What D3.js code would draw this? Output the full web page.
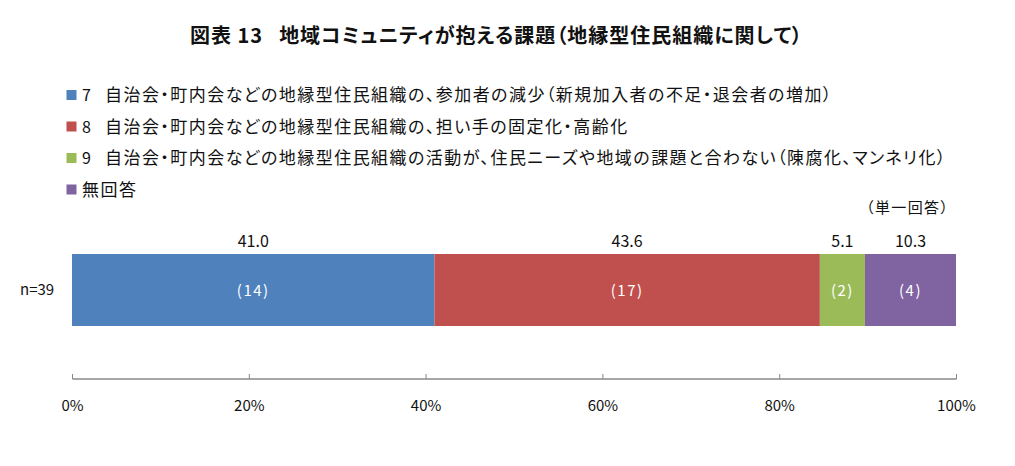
<!DOCTYPE html>
<html><head><meta charset="utf-8">
<script src="https://cdn.jsdelivr.net/npm/d3@7"></script>
<style>body{margin:0;background:#fff;} text{font-family:"Noto Sans CJK JP","Noto Sans",sans-serif;} .p{font-feature-settings:"palt" 1;}</style>
</head><body><svg id="c" width="1015" height="466"></svg>
<script>
const categories = ["7","8","9",""];
const legendLabels = [
  "自治会・町内会などの地縁型住民組織の、参加者の減少（新規加入者の不足・退会者の増加）",
  "自治会・町内会などの地縁型住民組織の、担い手の固定化・高齢化",
  "自治会・町内会などの地縁型住民組織の活動が、住民ニーズや地域の課題と合わない（陳腐化、マンネリ化）",
  "無回答"
];
const percents = [41.0, 43.6, 5.1, 10.3];
const counts = [14, 17, 2, 4];
const colors = ["#4f81bd", "#c0504d", "#9bbb59", "#8064a2"];
const rowLabel = "n=39";
const tickValues = [0, 20, 40, 60, 80, 100];

const svg = d3.select("#c");

svg.append("text").attr("class", "p").attr("x", 190).attr("y", 43)
  .attr("font-size", 20).attr("font-weight", "bold").attr("fill", "#111")
  .attr("textLength", 612).attr("lengthAdjust", "spacing")
  .text("図表 13\u2002\u2009地域コミュニティが抱える課題（地縁型住民組織に関して）");

const legendY = [95, 126.5, 158, 189.5];
const legTexts = [];
legendLabels.forEach((l, i) => {
  const g = svg.append("g");
  g.append("rect").attr("x", 66.5).attr("y", legendY[i] - 5).attr("width", 10).attr("height", 10).attr("fill", colors[i]);
  if (categories[i]) {
    g.append("text").attr("x", 82).attr("y", legendY[i] + 6).attr("font-size", 16).attr("fill", "#111").text(categories[i]);
  }
  const t = g.append("text").attr("class", "p").attr("x", categories[i] ? 105 : 82).attr("y", legendY[i] + 6)
    .attr("font-size", 17).attr("fill", "#111").text(l);
  legTexts.push(t);
});
// uniform tracking so that the first legend line spans the same width as in the original
{
  const t0 = legTexts[0].node();
  const n = t0.textContent.length;
  const ls = (728 - t0.getComputedTextLength()) / n;
  legTexts.forEach(t => t.attr("letter-spacing", ls.toFixed(2)));
}
svg.append("text").attr("class", "p").attr("x", 866).attr("y", 213).attr("font-size", 15).attr("fill", "#111")
  .attr("textLength", 82).attr("lengthAdjust", "spacing").text("（単一回答）");

const x = d3.scaleLinear().domain([0, 100]).range([72, 956]);
const y = d3.scaleBand().domain([rowLabel]).range([254, 326]).padding(0);

let cum = 0;
const segs = percents.map((p, i) => { const s = {p, c: counts[i], color: colors[i], x0: cum}; cum += p; s.x1 = Math.min(cum, 100); return s; });

svg.selectAll("rect.bar").data(segs).join("rect").attr("class", "bar")
  .attr("x", d => x(d.x0)).attr("width", d => x(d.x1) - x(d.x0))
  .attr("y", y(rowLabel)).attr("height", y.bandwidth()).attr("fill", d => d.color);

svg.selectAll("text.val").data(segs).join("text").attr("class", "val")
  .attr("x", d => (x(d.x0) + x(d.x1)) / 2).attr("y", y(rowLabel) - 7)
  .attr("text-anchor", "middle").attr("font-size", 16).attr("fill", "#111")
  .attr("font-family", "'Noto Sans',sans-serif")
  .text(d => d.p.toFixed(1));

svg.selectAll("text.cnt").data(segs).join("text").attr("class", "cnt")
  .attr("x", d => (x(d.x0) + x(d.x1)) / 2).attr("y", y(rowLabel) + y.bandwidth() / 2 + 6)
  .attr("text-anchor", "middle").attr("font-size", 15).attr("fill", "#fff")
  .attr("font-family", "'Noto Sans',sans-serif").attr("letter-spacing", 1.5)
  .text(d => "(" + d.c + ")");

svg.append("text").attr("x", 20).attr("y", y(rowLabel) + y.bandwidth() / 2 + 5)
  .attr("font-size", 15).attr("fill", "#111").attr("font-family", "'Noto Sans',sans-serif").text(rowLabel);

const axis = d3.axisTop(x).tickValues(tickValues).tickSize(5).tickFormat(d => d + "%");
const ag = svg.append("g").attr("transform", "translate(0,379)").call(axis);
ag.select(".domain").attr("stroke", "#888").attr("stroke-width", 1.5).attr("d", "M72.5,0H956.5");
ag.selectAll(".tick line").attr("stroke", "#888");
ag.selectAll(".tick text").attr("y", 32).attr("font-size", 15).attr("fill", "#111")
  .attr("font-family", "'Liberation Sans','Noto Sans',sans-serif");
</script></body></html>
